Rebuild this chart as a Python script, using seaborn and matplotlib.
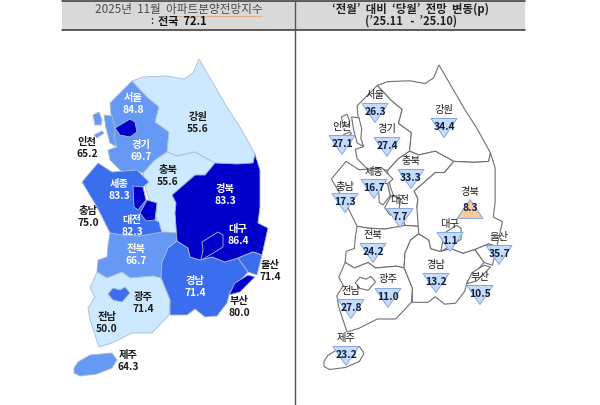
import matplotlib
matplotlib.use('Agg')
import matplotlib.pyplot as plt
from matplotlib.path import Path
import pandas as pd
import seaborn as sns

# ---- data ----
regions = ['서울', '인천', '경기', '강원', '충북', '세종', '충남', '대전', '경북',
           '대구', '울산', '전북', '경남', '부산', '광주', '전남', '제주']
index_values = [84.8, 65.2, 69.7, 55.6, 55.6, 83.3, 75.0, 82.3, 83.3,
                86.4, 71.4, 66.7, 71.4, 80.0, 71.4, 50.0, 64.3]
change_values = [26.3, 27.1, 27.4, 34.4, 33.3, 16.7, 17.3, 7.7, 8.3,
                 1.1, 35.7, 24.2, 13.2, 10.5, 11.0, 27.8, 23.2]
change_dirs = ['하락', '하락', '하락', '하락', '하락', '하락', '하락', '하락', '상승',
               '하락', '하락', '하락', '하락', '하락', '하락', '하락', '하락']

# label positions, pixels of the 600x405 picture
left_pos = {'서울': (133, 98), '인천': (87, 142), '경기': (141, 145), '강원': (198, 117),
            '충북': (168, 170), '세종': (119, 184), '충남': (88, 211), '대전': (132, 220),
            '경북': (225, 189), '대구': (238, 229), '울산': (270, 265), '전북': (136, 249),
            '경남': (195, 281), '부산': (239, 301), '광주': (143, 297), '전남': (107, 317),
            '제주': (128, 355)}
# name y, triangle centre x / y
right_pos = {'서울': (95, 375, 112), '인천': (127, 342, 144), '경기': (129, 387, 146),
             '강원': (110, 444, 127), '충북': (161, 411, 178), '세종': (172, 374, 188),
             '충남': (187, 345, 202), '대전': (200, 400, 217), '경북': (192, 470, 208),
             '대구': (224, 450, 241), '울산': (237, 499, 254), '전북': (235, 373, 252),
             '경남': (265, 436, 282), '부산': (277, 480, 294), '광주': (279, 388, 297),
             '전남': (291, 351, 308), '제주': (338, 346, 355)}

# map outlines
shapes = {
    '강원': [[(132, 81), (143, 77), (167, 76), (184, 79), (193, 73), (199, 59), (213, 83),
             (227, 107), (240, 127), (255, 154), (253, 163), (237, 164), (215, 163),
             (195, 152), (177, 156), (167, 152), (169, 132), (155, 122), (159, 107),
             (147, 97)]],
    '경기': [[(132, 81), (147, 97), (159, 107), (155, 122), (169, 132), (167, 152),
             (155, 160), (143, 173), (133, 170), (122, 172), (110, 160), (108, 150),
             (117, 147), (113, 137), (112, 116), (111, 115), (110, 103)]],
    '인천': [[(104, 115), (112, 116), (115, 128), (114, 138), (117, 147), (110, 143),
             (106, 128)],
            [(93, 115), (99, 112), (102, 120), (101, 125), (95, 125)],
            [(94, 135), (102, 131), (104, 133), (97, 138)]],
    '서울': [[(115, 128), (120, 125), (130, 119), (135, 122), (137, 132), (130, 137),
             (120, 135)]],
    '충북': [[(143, 173), (155, 160), (167, 152), (177, 156), (195, 152), (215, 163),
             (205, 175), (195, 175), (172, 195), (176, 203), (175, 213), (183, 218),
             (177, 233), (162, 232), (155, 215), (146, 190)]],
    '충남': [[(82, 182), (98, 163), (112, 172), (137, 170), (149, 182), (143, 187),
             (146, 200), (157, 203), (155, 220), (159, 222), (162, 233), (140, 236),
             (122, 235), (110, 233), (105, 223), (97, 207)]],
    '세종': [[(133, 186), (143, 187), (146, 200), (138, 210), (134, 207)]],
    '대전': [[(147, 200), (157, 203), (155, 220), (146, 221), (140, 213)]],
    '경북': [[(215, 163), (237, 164), (253, 163), (255, 154), (260, 170), (260, 207),
             (258, 223), (268, 228), (262, 255), (253, 252), (238, 258), (225, 262),
             (212, 257), (200, 260), (190, 257), (188, 248), (177, 241), (175, 213),
             (176, 203), (172, 195), (195, 175), (205, 175)]],
    '대구': [[(202, 242), (218, 232), (223, 235), (223, 247), (210, 255), (201, 260),
             (203, 250)]],
    '전북': [[(110, 233), (122, 235), (140, 236), (162, 232), (177, 233), (177, 241),
             (168, 248), (162, 262), (161, 278), (153, 276), (130, 278), (122, 272),
             (107, 278), (97, 272), (98, 260), (107, 257), (108, 245)]],
    '경남': [[(177, 241), (188, 248), (190, 257), (200, 260), (212, 257), (225, 262),
             (238, 258), (248, 272), (230, 292), (227, 303), (217, 316), (205, 317),
             (195, 309), (187, 315), (170, 315), (170, 300), (161, 278), (162, 262),
             (168, 248)]],
    '울산': [[(238, 258), (253, 252), (262, 255), (257, 275), (248, 272)]],
    '부산': [[(248, 275), (255, 277), (240, 292), (229, 295), (235, 283)]],
    '전남': [[(97, 272), (107, 278), (122, 272), (130, 278), (153, 276), (161, 278),
             (170, 300), (169, 315), (152, 333), (132, 333), (112, 343), (99, 347),
             (90, 320), (88, 308), (95, 297), (90, 288)]],
    '광주': [[(108, 294), (113, 288), (120, 290), (125, 287), (130, 293), (122, 302),
             (113, 300)]],
    '제주': [[(74, 368), (78, 362), (90, 355), (112, 353), (117, 360), (112, 368),
             (97, 374), (80, 376), (74, 373)]],
}
draw_order = ['경기', '인천', '강원', '충북', '충남', '전북', '경남', '전남', '경북', '울산',
              '부산', '대구', '서울', '세종', '대전', '광주', '제주']
# 서울 has no closed outline on the right map
right_order = [n for n in draw_order if n != '서울']


def index_color(v):
    if v < 60:
        return '#CCE9FF'
    if v < 70:
        return '#6699F5'
    if v < 80:
        return '#3B6EEE'
    return '#0000C8'


def to_right(name, x, y):
    # right map is the same outline, a bit smaller
    if name == '제주':
        return 324 + (x - 74) * 0.93, y - 6.5
    return 347 + (x - 99) * 0.92, 65 + (y - 59) * 0.927


sns.set_theme(style='white')
plt.rcParams['font.family'] = ['Noto Sans CJK KR', 'DejaVu Sans']
plt.rcParams['axes.unicode_minus'] = False

fig = plt.figure(figsize=(6, 4.05), dpi=100)
ax = fig.add_axes([0, 0, 1, 1])

# ---- header ----
ax.fill_between([62, 525], 1, 30, color='#D9D9D9', lw=0, zorder=1)
ax.plot([62, 525], [1, 1], color='#333333', lw=1.1, zorder=2)
ax.plot([62, 525], [30, 30], color='#333333', lw=1.1, zorder=2)
ax.plot([295, 295], [1, 405], color='#555555', lw=1.0, zorder=2)
ax.text(179, 9.5, '2025년  11월  아파트분양전망지수', ha='center', va='center',
        fontsize=8.4, color='#4A4A4A', zorder=3)
ax.plot([164, 262], [15.5, 15.5], color='#E2A070', lw=0.5, zorder=3)
ax.text(152, 21.5, ':', ha='center', va='center', fontsize=8, color='#222222', zorder=3)
ax.text(182, 21.5, '전국  72.1', ha='center', va='center', fontsize=8,
        fontweight='bold', color='#111111', zorder=3)
ax.text(411, 9.5, '‘전월’  대비  ‘당월’  전망  변동(p)', ha='center', va='center',
        fontsize=8.2, fontweight='bold', color='#222222', zorder=3)
ax.text(411, 21.5, '(’25.11   -  ’25.10)', ha='center', va='center',
        fontsize=8, fontweight='bold', color='#222222', zorder=3)

# ---- left map ----
values = dict(zip(regions, index_values))
for name in draw_order:
    for poly in shapes[name]:
        xs, ys = zip(*poly)
        ax.fill(xs, ys, facecolor=index_color(values[name]), edgecolor='#A9BBD6',
                lw=0.6, zorder=4)

white_labels = ['서울', '경기', '세종', '대전', '경북', '대구', '전북', '경남']
for name, val in zip(regions, index_values):
    x, y = left_pos[name]
    col = 'white' if name in white_labels else '#1A1A1A'
    ax.text(x, y, name, ha='center', va='center', fontsize=7.4, fontweight='bold',
            color=col, zorder=6)
    ax.text(x, y + 12.3, f'{val:.1f}', ha='center', va='center', fontsize=7.4,
            fontweight='bold', color=col, zorder=6)

# ---- right map ----
for name in right_order:
    for poly in shapes[name]:
        pts = [to_right(name, x, y) for x, y in poly]
        xs, ys = zip(*pts)
        ax.fill(xs, ys, facecolor='white', edgecolor='#707070', lw=0.8, zorder=4)

change_df = pd.DataFrame({
    'region': regions,
    'change': change_values,
    'dir': change_dirs,
    'x': [right_pos[r][1] for r in regions],
    'y': [right_pos[r][2] for r in regions],
})
# triangles are wider than tall, so no stock 'v' / '^' marker
tri_down = Path([(-1, 0.73), (1, 0.73), (0, -0.73), (-1, 0.73)], closed=True)
tri_up = Path([(-1, -0.73), (1, -0.73), (0, 0.73), (-1, -0.73)], closed=True)
sns.scatterplot(data=change_df, x='x', y=change_df['y'] + 1, hue='dir', style='dir',
                palette={'하락': '#C6DCFB', '상승': '#F8C99B'},
                markers={'하락': tri_down, '상승': tri_up}, s=350, edgecolor='#86A6E2',
                linewidth=0.7, legend=False, ax=ax, zorder=5)

for name, val in zip(regions, change_values):
    name_y, x, y = right_pos[name]
    ax.text(x, name_y, name, ha='center', va='center', fontsize=7.4, fontweight='medium',
            color='#1A1A1A', zorder=6)
    ax.text(x, y, f'{val:.1f}', ha='center', va='center', fontsize=7.4,
            fontweight='bold', color='#0E1E40', zorder=6)

ax.set_xlim(0, 600)
ax.set_ylim(405, 0)
ax.set_axis_off()
fig.savefig('out.png', dpi=100)
